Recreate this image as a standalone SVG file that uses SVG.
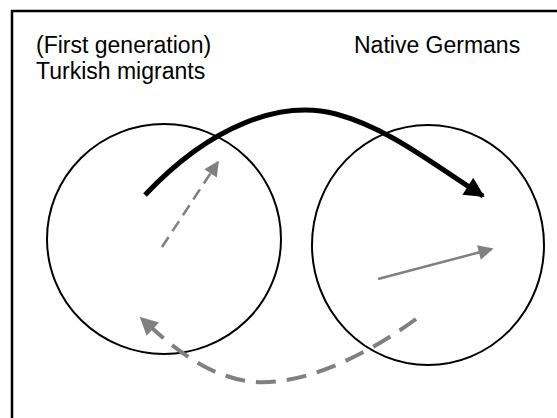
<svg xmlns="http://www.w3.org/2000/svg" width="557" height="418" viewBox="0 0 557 418">
  <defs>
    <style>
      .label { font-family: "Liberation Sans", Arial, sans-serif; font-size: 23px; fill: #000; }
      .group { fill: none; stroke: #000; stroke-width: 2; }
      .frame { fill: #fff; stroke: #000; stroke-width: 2.5; }
      .gray { fill: none; stroke: #808080; }
    </style>
    <marker id="headBlack" viewBox="0 0 10 10" refX="9" refY="5" markerWidth="5" markerHeight="4" markerUnits="strokeWidth" orient="auto">
      <path d="M0,0 L10,5 L0,10 z" fill="#000"/>
    </marker>
    <marker id="headGray" viewBox="0 0 10 10" refX="9" refY="5" markerWidth="7" markerHeight="6" markerUnits="strokeWidth" orient="auto">
      <path d="M0,0 L10,5 L0,10 z" fill="#808080"/>
    </marker>
    <marker id="headGrayDash" viewBox="0 0 10 10" refX="9" refY="5" markerWidth="5" markerHeight="4.5" markerUnits="strokeWidth" orient="auto">
      <path d="M0,0 L10,5 L0,10 z" fill="#808080"/>
    </marker>
  </defs>

  <rect class="frame" x="12" y="11" width="560" height="420"/>

  <g id="turkish-migrants">
    <ellipse class="group" cx="164" cy="239" rx="117" ry="115"/>
    <text class="label" x="36" y="53">(First generation)</text>
    <text class="label" x="36" y="79">Turkish migrants</text>
  </g>

  <g id="native-germans">
    <ellipse class="group" cx="428" cy="245" rx="116" ry="120"/>
    <text class="label" x="354" y="53">Native Germans</text>
  </g>

  <g id="connectors">
    <!-- strong move from migrants to natives -->
    <path d="M145,195 C212,124 282,100 336,114 C388,128 430,162 483,196" fill="none" stroke="#000" stroke-width="5" marker-end="url(#headBlack)"/>
    <!-- short dashed move inside migrants -->
    <path class="gray" d="M162,247 L218,162" stroke-width="2.5" stroke-dasharray="12,7" marker-end="url(#headGray)"/>
    <!-- move inside natives -->
    <path class="gray" d="M378,279 L492,249" stroke-width="2.5" marker-end="url(#headGray)"/>
    <!-- dashed return from natives to migrants -->
    <path class="gray" d="M416,319 C360,360 300,385 255,382 C210,378 175,350 141,318" stroke-width="4" stroke-dasharray="20,11" marker-end="url(#headGrayDash)"/>
  </g>
</svg>
